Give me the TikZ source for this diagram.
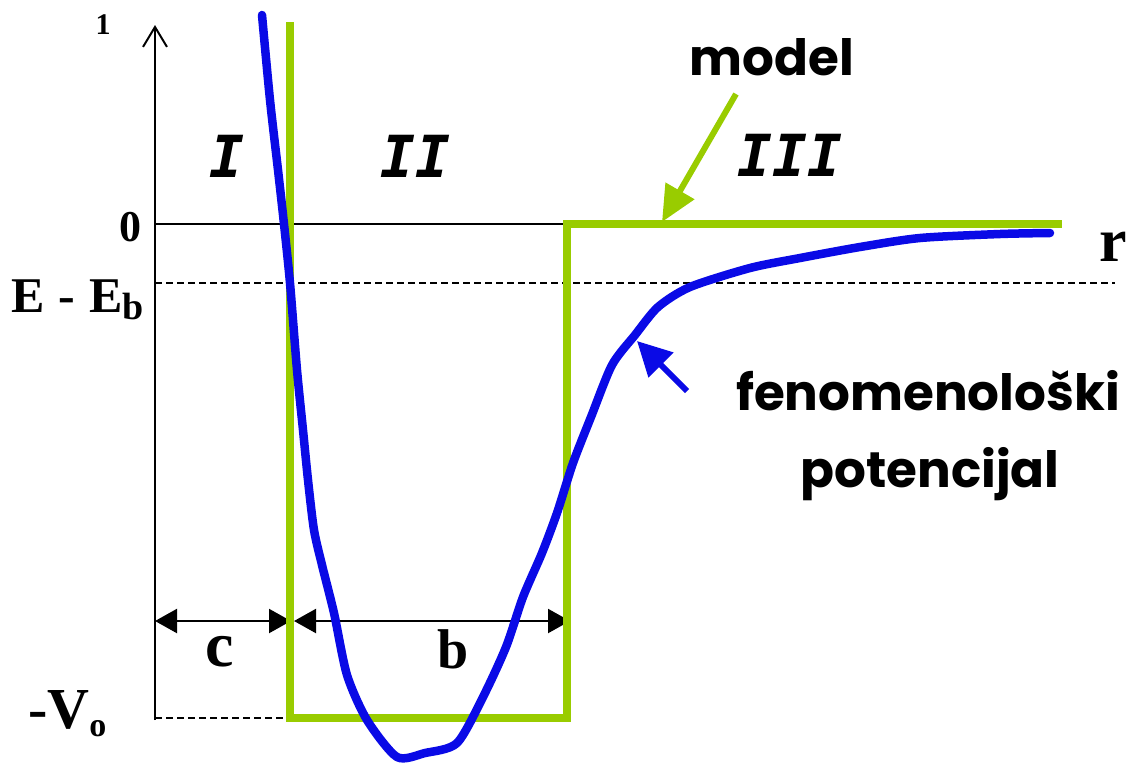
\documentclass[tikz,border=0pt]{standalone}
\usepackage{fontspec}
\setmainfont{Liberation Serif}
\newfontfamily\comicfont{Poppins}
\newfontfamily\regionfont{DejaVu Sans Mono Bold Oblique}
\usetikzlibrary{arrows.meta,positioning}
\definecolor{modelgreen}{HTML}{99CC00}
\definecolor{fenblue}{HTML}{0A0AE6}

\begin{document}
\begin{tikzpicture}[
          x=1pt, y=-1pt,
          axis/.style={draw=black, line width=2pt},
          guide/.style={draw=black, line width=2pt, dash pattern=on 7pt off 4pt},
          wall/.style={draw=modelgreen, line width=8.5pt, line join=miter},
          fen/.style={draw=fenblue, line width=8.5pt, line join=round, line cap=round},
          dim/.style={{Triangle[length=22pt,width=24pt]}-{Triangle[length=22pt,width=24pt]}, draw=black, line width=2.2pt},
          tick/.style={font=\bfseries\fontsize{44}{48}\selectfont, inner sep=0pt},
          region/.style={font=\regionfont\fontsize{58}{64}\selectfont, inner sep=0pt, anchor=base},
          lbl/.style={font=\comicfont\bfseries\fontsize{50}{56}\selectfont, inner sep=0pt, anchor=base}
        ]
        \useasboundingbox (0,0) rectangle (1142,764);
        \coordinate (ybot) at (155,720);
        \coordinate (ytop) at (155,25);
        \coordinate (zl) at (155,224);
        \coordinate (el) at (155,283);
        \coordinate (er) at (1115,283);
        \coordinate (vl) at (155,718);
        \coordinate (wtop) at (290,22);
        \coordinate (wbl) at (290,718);
        \coordinate (wbr) at (567,718);
        \coordinate (wtr) at (567,224);
        \coordinate (wend) at (1062,224);
        \coordinate (cl) at (155,621);
        \coordinate (cr) at (291,621);
        \coordinate (bl) at (294,621);
        \coordinate (br) at (570,621);
        \coordinate (mtail) at (736,94);
        \coordinate (mtip) at (662,222);
        \coordinate (ftail) at (687,391);
        \coordinate (ftip) at (637,341);
        \node[tick, anchor=base, font=\bfseries\fontsize{30}{34}\selectfont] (one) at (103,34) {1};
        \node[tick, anchor=base] (zero) at (130,241) {0};
        \node[tick, anchor=base west, font=\bfseries\fontsize{50}{54}\selectfont] (ebind) at (11,312) {E\hspace{14pt}-\hspace{14pt}E\raisebox{-7pt}{\fontsize{38}{38}\selectfont b}};
        \node[tick, anchor=base west, font=\bfseries\fontsize{58}{62}\selectfont] (vnull) at (28,728) {-V\raisebox{-8pt}{\fontsize{34}{34}\selectfont o}};
        \node[tick, anchor=base, font=\bfseries\fontsize{64}{68}\selectfont] (cw) at (220,666) {c};
        \node[tick, anchor=base, font=\bfseries\fontsize{56}{60}\selectfont] (bw) at (453,668) {b};
        \node[tick, anchor=base, font=\bfseries\fontsize{62}{66}\selectfont] (rax) at (1113,261) {r};
        \node[region] (reg1) at (227,177) {I};
        \node[region] (reg2) at (415,177) {II};
        \node[region] (reg3) at (790,176) {III};
        \node[lbl] (mdl) at (772,75) {model};
        \node[lbl] (fnm) at (928,410) {fenomenološki};
        \node[lbl] (pot) at (930,487) {potencijal};
        \draw[axis, -{Straight Barb[length=20pt,width=24pt]}] (ybot) -- (ytop);
        \draw[axis] (zl) -- (wtr);
        \draw[guide] (el) -- (er);
        \draw[guide] (vl) -- (wbl);
        \draw[dim] (cl) -- (cr);
        \draw[dim] (bl) -- (br);
        \draw[wall] (wtop) -- (wbl) -- (wbr) -- (wtr) -- (wend);
        \draw[fen] plot[smooth, tension=0.45] coordinates {(262,15) (270,100) (278,170) (284,224) (290,283) (297,370) (303,430) (308,480) (314,530) (322,565) (334,613) (347,675) (367,720) (397,757) (425,753) (457,743) (483,697) (506,647) (523,597) (542,553) (557,513) (573,463) (591,417) (612,365) (635,335) (658,307) (690,287) (750,268) (800,258) (860,247) (920,238) (1000,234) (1050,233)};
        \draw[modelgreen, line width=6pt, -{Triangle[length=36pt,width=32pt]}] (mtail) -- (mtip);
        \draw[fenblue, line width=6pt, -{Triangle[length=34pt,width=34pt]}] (ftail) -- (ftip);
      \end{tikzpicture}
\end{document}
